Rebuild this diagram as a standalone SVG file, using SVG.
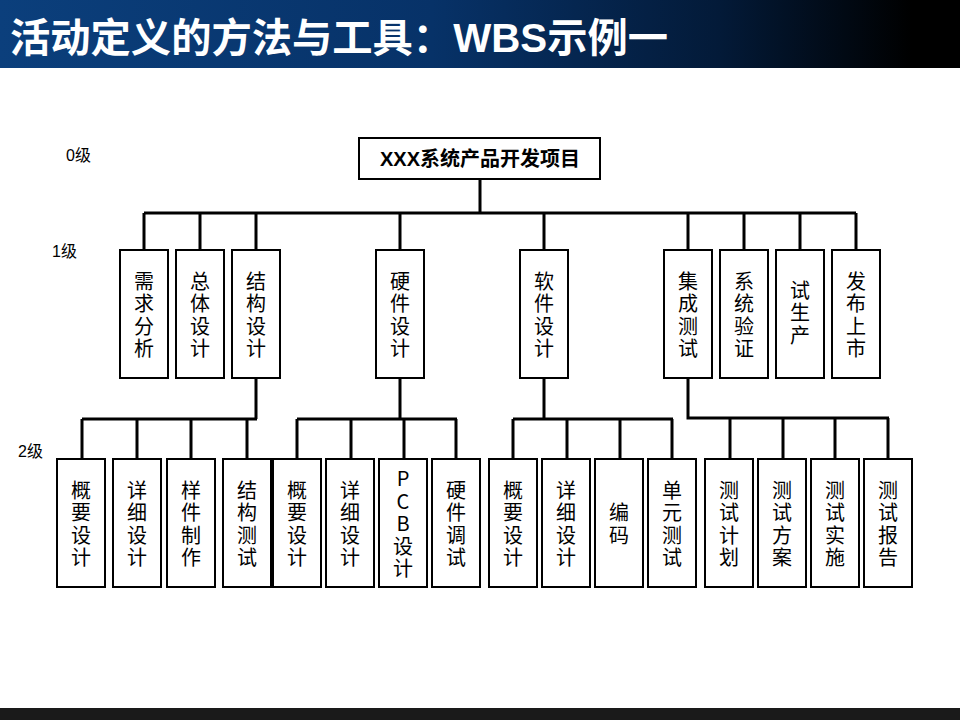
<svg xmlns="http://www.w3.org/2000/svg" width="960" height="720" viewBox="0 0 960 720">
<defs>
<linearGradient id="hdr" x1="0" y1="0" x2="1" y2="0">
<stop offset="0" stop-color="#0b3f7c"/>
<stop offset="0.45" stop-color="#073268"/>
<stop offset="0.75" stop-color="#031a38"/>
<stop offset="0.95" stop-color="#000000"/>
<stop offset="1" stop-color="#000000"/>
</linearGradient>
</defs>
<style>
.box{fill:#fff;stroke:#000;stroke-width:2}
.t{font-family:"Noto Sans CJK SC","Liberation Sans",sans-serif;font-size:20px;fill:#000;text-anchor:middle;writing-mode:vertical-rl;text-orientation:upright;letter-spacing:2.5px}
.lv{font-family:"Liberation Sans","Noto Sans CJK SC",sans-serif;font-size:16px;fill:#000}
.c{fill:none;stroke:#000;stroke-width:3}
</style>
<rect x="0" y="0" width="960" height="68" fill="url(#hdr)"/>
<text x="10" y="52" font-family="'Liberation Sans','Noto Sans CJK SC',sans-serif" font-size="40" font-weight="bold" fill="#fff" textLength="658" lengthAdjust="spacingAndGlyphs">活动定义的方法与工具：WBS示例一</text>
<rect x="0" y="708" width="960" height="12" fill="#1a1a1a"/>

<text class="lv" x="66" y="161">0级</text>
<text class="lv" x="52" y="257">1级</text>
<text class="lv" x="18" y="457">2级</text>

<g id="connectors">
<path class="c" d="M480,179 V213 M144,213 H856 M144,213 V250 M200,213 V250 M256,213 V250 M400,213 V250 M544,213 V250 M688,213 V250 M744,213 V250 M800,213 V250 M856,213 V250"/>
<path class="c" d="M256,378 V419 M82,419 H257 M82,419 V459 M137,419 V459 M191,419 V459 M247,419 V459"/>
<path class="c" d="M400,378 V419 M297,419 H457 M297,419 V459 M351,419 V459 M404,419 V459 M456,419 V459"/>
<path class="c" d="M544,378 V419 M513,419 H673 M513,419 V459 M567,419 V459 M620,419 V459 M672,419 V459"/>
<path class="c" d="M688,378 V418 H889 M730,418 V459 M783,418 V459 M835,418 V459 M888,418 V459"/>
</g>

<g id="root"><rect class="box" x="359" y="138" width="241" height="41"/><text x="480" y="166" font-family="'Liberation Sans','Noto Sans CJK SC',sans-serif" font-size="20" font-weight="bold" text-anchor="middle">XXX系统产品开发项目</text></g>

<g id="n1a"><rect class="box" x="120" y="250" width="48" height="128"/><text class="t" x="144" y="316">需求分析</text></g>
<g id="n1b"><rect class="box" x="176" y="250" width="48" height="128"/><text class="t" x="200" y="316">总体设计</text></g>
<g id="n1c"><rect class="box" x="232" y="250" width="48" height="128"/><text class="t" x="256" y="316">结构设计</text></g>
<g id="n1d"><rect class="box" x="376" y="250" width="48" height="128"/><text class="t" x="400" y="316">硬件设计</text></g>
<g id="n1e"><rect class="box" x="520" y="250" width="48" height="128"/><text class="t" x="544" y="316">软件设计</text></g>
<g id="n1f"><rect class="box" x="664" y="250" width="48" height="128"/><text class="t" x="688" y="316">集成测试</text></g>
<g id="n1g"><rect class="box" x="720" y="250" width="48" height="128"/><text class="t" x="744" y="316">系统验证</text></g>
<g id="n1h"><rect class="box" x="776" y="250" width="48" height="128"/><text class="t" x="800" y="314">试生产</text></g>
<g id="n1i"><rect class="box" x="832" y="250" width="48" height="128"/><text class="t" x="856" y="316">发布上市</text></g>

<g id="n2a"><rect class="box" x="57" y="459" width="48" height="128"/><text class="t" x="81" y="525">概要设计</text></g>
<g id="n2b"><rect class="box" x="113" y="459" width="48" height="128"/><text class="t" x="137" y="525">详细设计</text></g>
<g id="n2c"><rect class="box" x="167" y="459" width="48" height="128"/><text class="t" x="191" y="525">样件制作</text></g>
<g id="n2d"><rect class="box" x="223" y="459" width="48" height="128"/><text class="t" x="247" y="525">结构测试</text></g>
<g id="n2e"><rect class="box" x="273" y="459" width="48" height="128"/><text class="t" x="297" y="525">概要设计</text></g>
<g id="n2f"><rect class="box" x="326" y="459" width="48" height="128"/><text class="t" x="350" y="525">详细设计</text></g>
<g id="n2g"><rect class="box" x="379" y="459" width="48" height="128"/><text class="t" x="403" y="525">PCB设计</text></g>
<g id="n2h"><rect class="box" x="432" y="459" width="48" height="128"/><text class="t" x="456" y="525">硬件调试</text></g>
<g id="n2i"><rect class="box" x="489" y="459" width="48" height="128"/><text class="t" x="513" y="525">概要设计</text></g>
<g id="n2j"><rect class="box" x="542" y="459" width="48" height="128"/><text class="t" x="566" y="525">详细设计</text></g>
<g id="n2k"><rect class="box" x="595" y="459" width="48" height="128"/><text class="t" x="619" y="525">编码</text></g>
<g id="n2l"><rect class="box" x="648" y="459" width="48" height="128"/><text class="t" x="672" y="525">单元测试</text></g>
<g id="n2m"><rect class="box" x="705" y="459" width="48" height="128"/><text class="t" x="729" y="525">测试计划</text></g>
<g id="n2n"><rect class="box" x="758" y="459" width="48" height="128"/><text class="t" x="782" y="525">测试方案</text></g>
<g id="n2o"><rect class="box" x="811" y="459" width="48" height="128"/><text class="t" x="835" y="525">测试实施</text></g>
<g id="n2p"><rect class="box" x="864" y="459" width="48" height="128"/><text class="t" x="888" y="525">测试报告</text></g>
</svg>
